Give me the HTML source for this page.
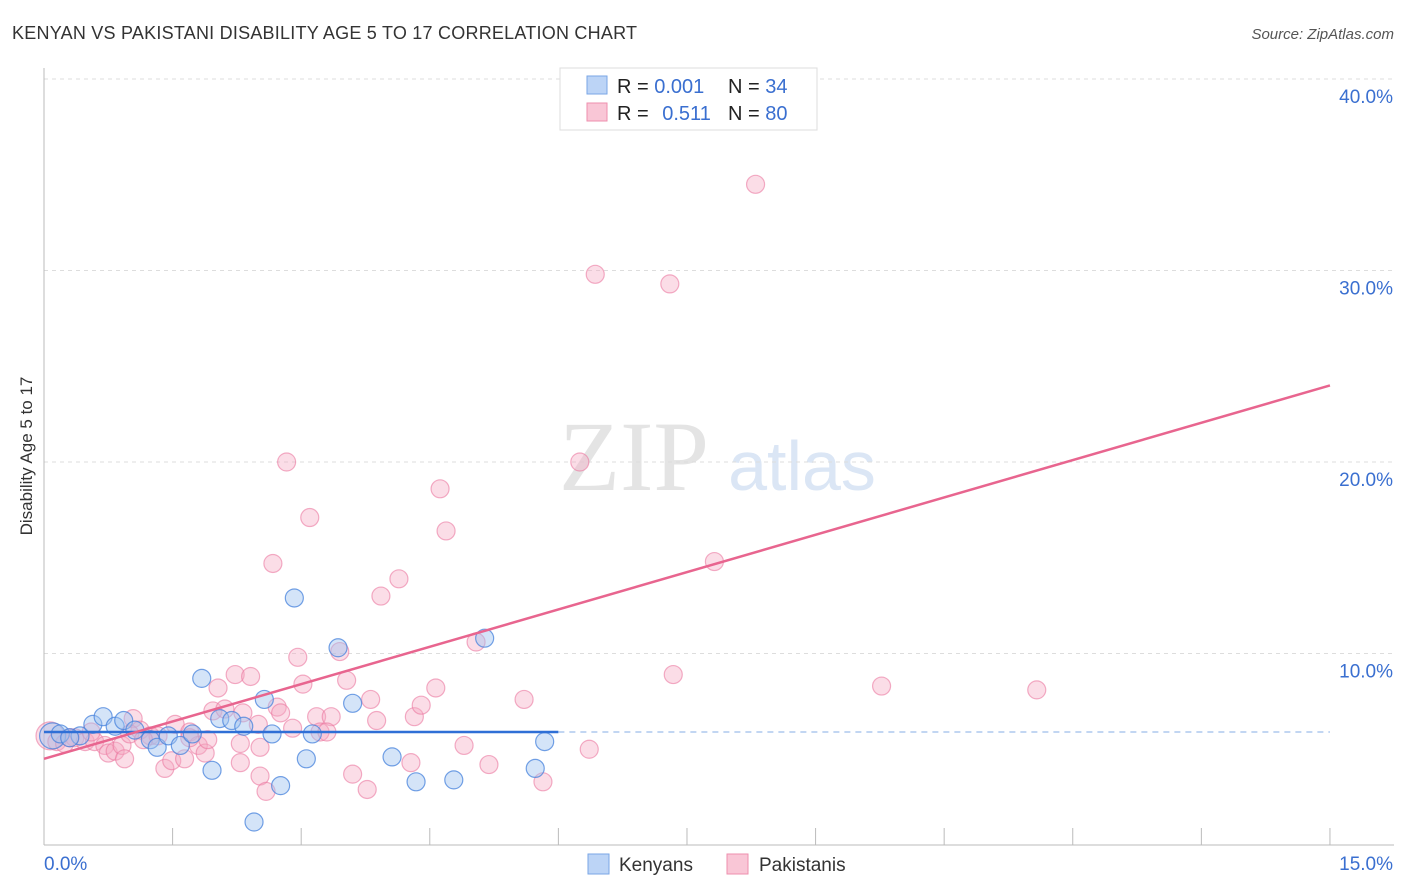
<!DOCTYPE html>
<html><head><meta charset="utf-8"><style>
body{margin:0;background:#fff;font-family:"Liberation Sans",sans-serif;}
#wrap{position:relative;width:1406px;height:892px;overflow:hidden;}
</style></head><body>
<div id="wrap">
<svg id="chart" width="1406" height="892" xmlns="http://www.w3.org/2000/svg">
<text x="12" y="39" font-size="18" fill="#333" textLength="625">KENYAN VS PAKISTANI DISABILITY AGE 5 TO 17 CORRELATION CHART</text>
<text x="1394" y="39" font-size="15" fill="#555" font-style="italic" text-anchor="end">Source: ZipAtlas.com</text>
<text x="32" y="456" font-size="17" fill="#333" text-anchor="middle" transform="rotate(-90 32 456)">Disability Age 5 to 17</text>
<text x="634" y="490" font-size="100" fill="#e4e4e4" font-family="Liberation Serif,serif" text-anchor="middle">ZIP</text>
<text x="802" y="490" font-size="70" fill="#dbe6f5" text-anchor="middle">atlas</text>
<g id="grid"></g><g id="axes"></g><g id="pts"></g><g id="lines"></g>
<g>
<rect x="560" y="68" width="257" height="62" fill="#fff" stroke="#ddd"/>
<rect x="587" y="76" width="20" height="18" fill="#bcd4f6" stroke="#7aa6e6"/>
<rect x="587" y="103" width="20" height="18" fill="#f9c6d6" stroke="#ee8fae"/>
<text x="617" y="93" font-size="20" fill="#222">R = <tspan fill="#3a6fd0">0.001</tspan></text>
<text x="728" y="93" font-size="20" fill="#222">N = <tspan fill="#3a6fd0">34</tspan></text>
<text x="617" y="120" font-size="20" fill="#222">R = <tspan fill="#3a6fd0" dx="8">0.511</tspan></text>
<text x="728" y="120" font-size="20" fill="#222">N = <tspan fill="#3a6fd0">80</tspan></text>
</g>
<g>
<rect x="588" y="854" width="21" height="20" fill="#bcd4f6" stroke="#7aa6e6"/>
<text x="619" y="871" font-size="19" fill="#333">Kenyans</text>
<rect x="727" y="854" width="21" height="20" fill="#f9c6d6" stroke="#ee8fae"/>
<text x="759" y="871" font-size="19" fill="#333">Pakistanis</text>
</g>
</svg>
</div>
<script>
const kenyanX=[0.1,0.19,0.42,0.57,0.69,0.83,0.93,1.06,1.24,1.32,1.45,1.59,1.73,1.84,1.96,2.05,2.19,2.33,2.45,2.57,2.66,2.76,2.92,3.06,3.13,3.43,3.6,4.06,4.34,4.78,5.14,5.73,5.84,0.3];
const kenyanY=[5.7,5.8,5.7,6.3,6.7,6.2,6.5,6.0,5.5,5.1,5.7,5.2,5.8,8.7,3.9,6.6,6.5,6.2,1.2,7.6,5.8,3.1,12.9,4.5,5.8,10.3,7.4,4.6,3.3,3.4,10.8,4.0,5.4,5.6];
const pakX=[0.07,0.15,0.24,0.36,0.48,0.59,0.71,0.75,0.83,0.91,0.94,1.04,1.12,1.24,1.33,1.41,1.49,1.53,1.64,1.70,1.80,1.88,1.91,1.97,2.03,2.11,2.23,2.29,2.32,2.41,2.50,2.52,2.59,2.67,2.72,2.76,2.83,2.96,3.02,3.10,3.18,3.22,3.35,3.45,3.53,3.60,3.77,3.81,3.88,3.93,4.14,4.28,4.32,4.40,4.57,4.62,4.69,5.04,5.19,5.60,5.82,6.25,6.36,6.43,7.30,7.34,7.82,8.30,9.77,11.58,2.29,2.52,0.55,1.0,1.7,2.9,3.3,0.3,1.16,4.9];
const pakY=[5.7,5.4,5.3,5.6,5.4,5.4,5.2,4.8,4.9,5.2,4.5,6.6,6.0,5.7,5.7,4.0,4.4,6.3,4.5,5.9,5.2,4.8,5.5,7.0,8.2,7.1,8.9,4.3,6.9,8.8,6.3,3.6,2.8,14.7,7.2,6.9,20.0,9.8,8.4,17.1,6.7,5.9,6.7,10.1,8.6,3.7,2.9,7.6,6.5,13.0,13.9,4.3,6.7,7.3,8.2,18.6,16.4,10.6,4.2,7.6,3.3,20.0,5.0,29.8,29.3,8.9,14.8,34.5,8.3,8.1,5.3,5.1,5.9,5.8,5.6,6.1,5.9,5.6,5.5,5.2];
const xTickLabels=["0.0%","15.0%"];
const yTickVals=[10,20,30,40];
const kenTrend=[5.9,5.9];
const pakTrend=[4.5,24.0];
const X=v=>44+v*85.73, Y=v=>845-v*19.15;
const NS="http://www.w3.org/2000/svg";
function mk(p,t,a){const e=document.createElementNS(NS,t);for(const k in a)e.setAttribute(k,a[k]);p.appendChild(e);return e;}
const grid=document.getElementById('grid'),axes=document.getElementById('axes'),pts=document.getElementById('pts'),lines=document.getElementById('lines');
yTickVals.forEach(v=>{
 const l=mk(grid,'line',{x1:44,x2:1394,y1:Y(v),y2:Y(v),stroke:'#ddd','stroke-dasharray':'4,4'});
 
 
 const t=mk(axes,'text',{x:1393,y:Y(v)+24,'font-size':19,fill:'#3a6fd0','text-anchor':'end'});
 t.textContent=v.toFixed(1)+'%';
 
 
});
mk(axes,'line',{x1:44,x2:44,y1:68,y2:845,stroke:'#bbb'});
mk(axes,'line',{x1:44,x2:1394,y1:845,y2:845,stroke:'#bbb'});
for(let i=1;i<=10;i++){const l=mk(axes,'line',{x1:X(i*1.5),x2:X(i*1.5),y1:828,y2:845,stroke:'#bbb'});
 
 }
const t0=mk(axes,'text',{x:44,y:870,'font-size':19,fill:'#3a6fd0'});t0.textContent=xTickLabels[0];


const t1=mk(axes,'text',{x:1393,y:870,'font-size':19,fill:'#3a6fd0','text-anchor':'end'});t1.textContent=xTickLabels[1];


pakX.forEach((x,i)=>{const c=mk(pts,'circle',{cx:X(x),cy:Y(pakY[i]),r:i==0?14:9,fill:'rgba(246,170,195,0.4)',stroke:'rgba(235,120,160,0.6)','stroke-width':1.2});
 
 });
kenyanX.forEach((x,i)=>{const c=mk(pts,'circle',{cx:X(x),cy:Y(kenyanY[i]),r:i==0?13:9,fill:'rgba(160,195,240,0.45)',stroke:'rgba(70,130,220,0.75)','stroke-width':1.2});
 
 });
const kl=mk(lines,'line',{x1:X(0),x2:X(6),y1:Y(kenTrend[0]),y2:Y(kenTrend[0]),stroke:'#2f6fd6','stroke-width':2.5});


const kd=mk(lines,'line',{x1:X(6),x2:X(15),y1:Y(kenTrend[1]),y2:Y(kenTrend[1]),stroke:'#9dbdea','stroke-width':1.2,'stroke-dasharray':'6,5'});


const pl=mk(lines,'line',{x1:X(0),x2:X(15),y1:Y(pakTrend[0]),y2:Y(pakTrend[1]),stroke:'#e8658f','stroke-width':2.5});


</script>
</body></html>
